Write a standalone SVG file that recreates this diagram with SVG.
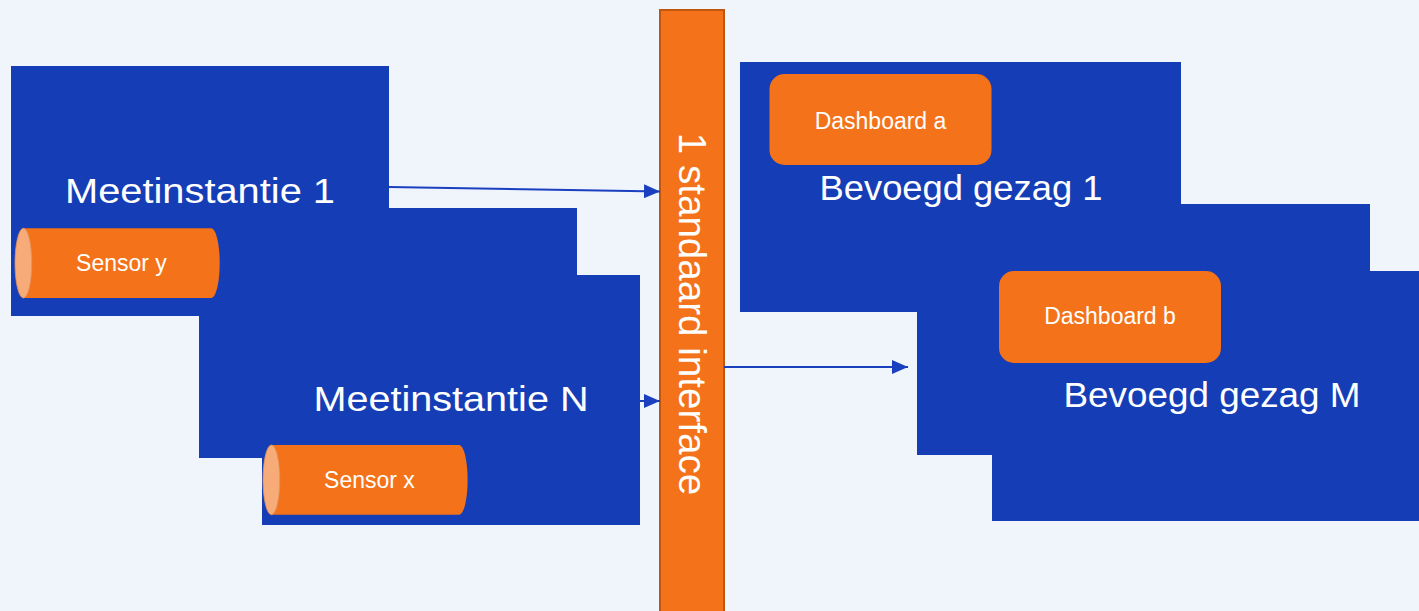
<svg xmlns="http://www.w3.org/2000/svg" width="1419" height="611" viewBox="0 0 1419 611">
  <defs>
    <style>
      .blue { fill: #153EB6; }
      .orange { fill: #F47219; }
      .cap { fill: #F7AB78; stroke: #E0915A; stroke-width: 0.8; }
      .big { font-family: "Liberation Sans", Arial, sans-serif; font-size: 35px; fill: #FFFFFF; text-anchor: middle; }
      .small { font-family: "Liberation Sans", Arial, sans-serif; font-size: 23px; fill: #FFFFFF; text-anchor: middle; }
      .conn { stroke: #1A3FBF; stroke-width: 2; fill: none; }
    </style>
    <marker id="arrow" markerUnits="userSpaceOnUse" markerWidth="16" markerHeight="14" refX="16" refY="7" orient="auto">
      <path d="M0,0 L16,7 L0,14 Z" fill="#1A3FBF"/>
    </marker>
  </defs>
  <rect x="0" y="0" width="1419" height="611" fill="#F0F4FB"/>

  <g id="meetinstantie-n">
    <rect class="blue" x="199" y="208" width="378" height="250"/>
    <rect class="blue" x="262" y="275" width="378" height="250"/>
    <text class="big" x="451" y="411" textLength="275" lengthAdjust="spacingAndGlyphs">Meetinstantie N</text>
  </g>
  <g id="meetinstantie-1">
    <rect class="blue" x="11" y="66" width="378" height="250"/>
    <text class="big" x="200" y="203" textLength="270" lengthAdjust="spacingAndGlyphs">Meetinstantie 1</text>
  </g>
  <g id="sensor-y">
    <path class="orange" d="M23.4,228.3 H211.3 A8.4,34.85 0 0 1 211.3,298 H23.4 Z"/>
    <ellipse class="cap" cx="23.4" cy="263.15" rx="8.4" ry="34.85"/>
    <text class="small" x="121.5" y="271">Sensor y</text>
  </g>
  <g id="sensor-x">
    <path class="orange" d="M271.4,445 H459.2 A8.4,34.85 0 0 1 459.2,514.7 H271.4 Z"/>
    <ellipse class="cap" cx="271.4" cy="479.85" rx="8.4" ry="34.85"/>
    <text class="small" x="369.5" y="487.5">Sensor x</text>
  </g>

  <g id="interface">
    <rect x="660" y="10" width="64" height="610" fill="#F47219" stroke="#C0570F" stroke-width="2"/>
    <text transform="translate(679,314) rotate(90)" x="0" y="0" font-family="Liberation Sans, Arial, sans-serif" font-size="38.6" fill="#FFFFFF" text-anchor="middle">1 standaard interface</text>
  </g>

  <g id="bevoegd-gezag-m">
    <rect class="blue" x="917" y="204" width="453" height="251"/>
    <rect class="blue" x="992" y="271" width="427" height="250"/>
    <text class="big" x="1212" y="407" textLength="297" lengthAdjust="spacingAndGlyphs">Bevoegd gezag M</text>
  </g>
  <g id="bevoegd-gezag-1">
    <rect class="blue" x="740" y="62" width="441" height="250"/>
    <text class="big" x="961" y="199.5" textLength="283" lengthAdjust="spacingAndGlyphs">Bevoegd gezag 1</text>
  </g>
  <g id="dashboard-a">
    <rect class="orange" x="769.5" y="74" width="222" height="91" rx="15" ry="15"/>
    <text class="small" x="880.5" y="128.5">Dashboard a</text>
  </g>
  <g id="dashboard-b">
    <rect class="orange" x="999" y="271" width="222" height="92" rx="15" ry="15"/>
    <text class="small" x="1110" y="324">Dashboard b</text>
  </g>

  <g id="connectors">
    <line class="conn" x1="389" y1="187" x2="660" y2="191.5" marker-end="url(#arrow)"/>
    <line class="conn" x1="640" y1="401" x2="660" y2="401" marker-end="url(#arrow)"/>
    <line class="conn" x1="724" y1="367" x2="908" y2="367" marker-end="url(#arrow)"/>
  </g>
</svg>
